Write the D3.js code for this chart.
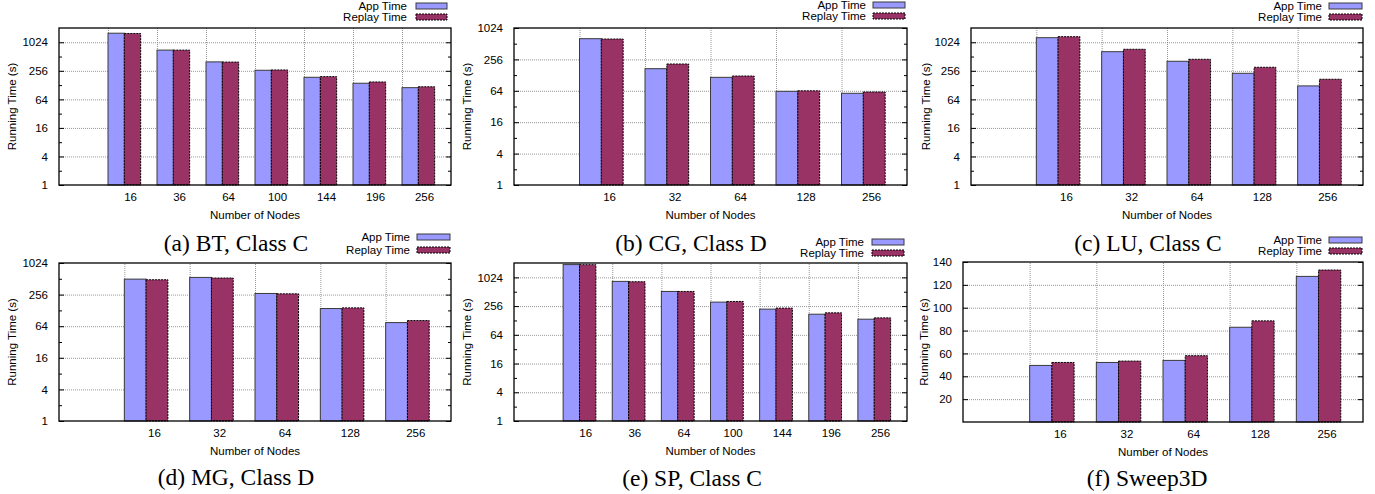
<!DOCTYPE html>
<html>
<head>
<meta charset="utf-8">
<script src="https://cdn.jsdelivr.net/npm/d3@7"></script>
<style>
  body { margin: 0; background: #fff; }
  svg { display: block; }
</style>
</head>
<body>
<div id="chart"></div>
<script>
// categories
const nodes7 = ['16', '36', '64', '100', '144', '196', '256'];
const nodes5 = ['16', '32', '64', '128', '256'];
const seriesNames = ['App Time', 'Replay Time'];

// values (seconds)
const btApp = [1590, 700, 395, 263, 187, 140, 113];
const btReplay = [1570, 700, 392, 267, 193, 149, 118];
const cgApp = [639, 170, 116, 62.6, 57.3];
const cgReplay = [630, 209, 123, 64, 60.7];
const luApp = [1280, 648, 407, 227, 123];
const luReplay = [1343, 729, 448, 304, 170];
const mgApp = [505, 544, 269, 139, 75];
const mgReplay = [491, 530, 265, 143, 82];
const spApp = [1895, 843, 519, 310, 221, 173, 136];
const spReplay = [1890, 830, 519, 320, 232, 185, 145];
const swApp = [49.5, 52.1, 53.9, 82.9, 127.4];
const swReplay = [52.1, 53.3, 58.0, 88.5, 133];

// tick labels
const logTicks = [1, 4, 16, 64, 256, 1024];
const logMinor = [2, 8, 32, 128, 512];
const linTicks = [20, 40, 60, 80, 100, 120, 140];

const captions = ['(a) BT, Class C', '(b) CG, Class D', '(c) LU, Class C',
                  '(d) MG, Class D', '(e) SP, Class C', '(f) Sweep3D'];

const colors = ['#9999ff', '#993366'];
const sans = '"Liberation Sans", Arial, Helvetica, sans-serif';
const serif = '"Liberation Serif", "Times New Roman", serif';

// layout for each panel
const panels = [
  { cats: nodes7, app: btApp, rep: btReplay, log: true, yTop: 2048,
    left: 59, right: 451, top: 28, bottom: 185, legEnd: 407, swX: 416, swW: 31, legY: [6, 17], ylabX: 12, capX: 236, capY: 251 },
  { cats: nodes5, app: cgApp, rep: cgReplay, log: true, yTop: 1024,
    left: 514, right: 907, top: 28, bottom: 185, legEnd: 866, swX: 873, swW: 32, legY: [5, 16], ylabX: 467, capX: 691, capY: 251 },
  { cats: nodes5, app: luApp, rep: luReplay, log: true, yTop: 2048,
    left: 971, right: 1363, top: 28, bottom: 185, legEnd: 1322, swX: 1329, swW: 33, legY: [6, 17], ylabX: 926, capX: 1148, capY: 251 },
  { cats: nodes5, app: mgApp, rep: mgReplay, log: true, yTop: 1024,
    left: 59, right: 451, top: 263, bottom: 421, legEnd: 410, swX: 417, swW: 33, legY: [237, 250], ylabX: 12, capX: 236, capY: 485 },
  { cats: nodes7, app: spApp, rep: spReplay, log: true, yTop: 2048,
    left: 514, right: 907, top: 263, bottom: 421, legEnd: 864, swX: 872, swW: 32, legY: [242, 253], ylabX: 467, capX: 692, capY: 486 },
  { cats: nodes5, app: swApp, rep: swReplay, log: false, yTop: 140,
    left: 963, right: 1363, top: 262, bottom: 422, legEnd: 1322, swX: 1329, swW: 33, legY: [240, 251], ylabX: 924, capX: 1147, capY: 486 }
];

const svg = d3.select('#chart')
  .append('svg')
  .attr('width', 1375)
  .attr('height', 494);

panels.forEach((p, pi) => {
  const n = p.cats.length;
  const g = svg.append('g');

  const x = d3.scaleLinear().domain([-1, n]).range([p.left, p.right]);
  const y = p.log
    ? d3.scaleLog().base(2).domain([1, p.yTop]).range([p.bottom, p.top])
    : d3.scaleLinear().domain([0, p.yTop]).range([p.bottom, p.top]);
  const w = p.right - p.left;
  const h = p.bottom - p.top;
  const yTicks = p.log ? logTicks : linTicks;

  // grid lines
  const gy = g.append('g')
    .attr('transform', `translate(${p.left},0)`)
    .call(d3.axisLeft(y).tickValues(yTicks.filter(v => v < p.yTop && v > (p.log ? 1 : 0)))
      .tickSize(-w).tickFormat(''));
  const gx = g.append('g')
    .attr('transform', `translate(0,${p.bottom})`)
    .call(d3.axisBottom(x).tickValues(d3.range(n)).tickSize(-h).tickFormat(''));
  [gy, gx].forEach(a => {
    a.select('.domain').remove();
    a.selectAll('line')
      .attr('stroke', '#8a8a8a')
      .attr('stroke-width', 0.9)
      .attr('stroke-dasharray', '1,1');
  });

  // bars
  const bw = x(1 / 3) - x(0);
  [p.app, p.rep].forEach((vals, si) => {
    g.append('g').selectAll('rect')
      .data(vals)
      .enter()
      .append('rect')
      .attr('x', (d, i) => x(i + si / 3))
      .attr('y', d => y(d))
      .attr('width', bw)
      .attr('height', d => p.bottom - y(d))
      .attr('fill', colors[si])
      .attr('stroke', si === 0 ? '#3a3a3a' : '#000')
      .attr('stroke-width', 1)
      .attr('stroke-dasharray', si === 0 ? null : '2,1');
  });

  // border
  g.append('rect')
    .attr('x', p.left).attr('y', p.top)
    .attr('width', w).attr('height', h)
    .attr('fill', 'none')
    .attr('stroke', '#000')
    .attr('stroke-width', 1.3);

  // y axis (left labelled, right mirrored ticks)
  const axL = g.append('g')
    .attr('transform', `translate(${p.left},0)`)
    .call(d3.axisLeft(y).tickValues(yTicks).tickSize(-5).tickPadding(11).tickFormat(d3.format('d')));
  const axR = g.append('g')
    .attr('transform', `translate(${p.right},0)`)
    .call(d3.axisRight(y).tickValues(yTicks).tickSize(-5).tickFormat(''));
  [axL, axR].forEach(a => {
    a.select('.domain').remove();
    a.selectAll('line').attr('stroke', '#000');
    a.selectAll('text')
      .attr('font-family', sans)
      .attr('font-size', 11.5)
      .attr('fill', '#000');
  });
  if (p.log) {
    [[p.left, d3.axisLeft], [p.right, d3.axisRight]].forEach(([px, ax]) => {
      const m = g.append('g')
        .attr('transform', `translate(${px},0)`)
        .call(ax(y).tickValues(logMinor).tickSize(-3).tickFormat(''));
      m.select('.domain').remove();
      m.selectAll('line').attr('stroke', '#000');
    });
  }

  // x tick labels
  g.append('g').selectAll('text')
    .data(p.cats)
    .enter()
    .append('text')
    .attr('x', (d, i) => x(i + 0.46))
    .attr('y', p.bottom + 16)
    .attr('text-anchor', 'middle')
    .attr('font-family', sans)
    .attr('font-size', 11.5)
    .text(d => d);

  // axis titles
  g.append('text')
    .attr('x', (p.left + p.right) / 2)
    .attr('y', p.bottom + 34)
    .attr('text-anchor', 'middle')
    .attr('font-family', sans)
    .attr('font-size', 11.5)
    .text('Number of Nodes');

  g.append('text')
    .attr('transform', `translate(${p.ylabX + 4},${(p.top + p.bottom) / 2}) rotate(-90)`)
    .attr('text-anchor', 'middle')
    .attr('font-family', sans)
    .attr('font-size', 11.5)
    .text('Running Time (s)');

  // legend
  seriesNames.forEach((name, si) => {
    const ly = p.legY[si];
    g.append('text')
      .attr('x', p.legEnd)
      .attr('y', ly + 4)
      .attr('text-anchor', 'end')
      .attr('font-family', sans)
      .attr('font-size', 11.5)
      .text(name);
    g.append('rect')
      .attr('x', p.swX)
      .attr('y', ly - 3)
      .attr('width', p.swW)
      .attr('height', 6)
      .attr('fill', colors[si])
      .attr('stroke', si === 0 ? '#3a3a3a' : '#000')
      .attr('stroke-width', 1)
      .attr('stroke-dasharray', si === 0 ? null : '2,1');
  });

  // caption
  g.append('text')
    .attr('x', p.capX)
    .attr('y', p.capY)
    .attr('text-anchor', 'middle')
    .attr('font-family', serif)
    .attr('font-size', 23.5)
    .text(captions[pi]);
});
</script>
</body>
</html>
